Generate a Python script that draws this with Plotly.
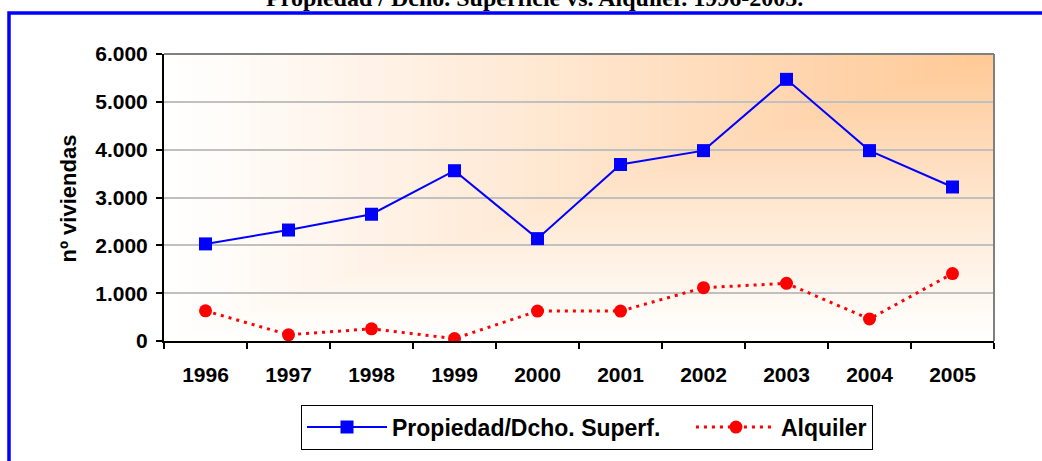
import plotly.graph_objects as go

years = ["1996", "1997", "1998", "1999", "2000", "2001", "2002", "2003", "2004", "2005"]
propiedad = [2030, 2320, 2650, 3560, 2140, 3690, 3980, 5470, 3980, 3220]
alquiler = [630, 130, 255, 50, 625, 625, 1115, 1205, 460, 1410]

title_text = "Propiedad / Dcho. Superficie vs. Alquiler. 1996-2005."
y_title = "nº viviendas"
name1 = "Propiedad/Dcho. Superf."
name2 = "Alquiler"

W, H = 1042, 461
L, R, T, B = 164, 994, 54, 344
pw, ph = R - L, B - T

def px_x(p):
    return (p - L) / pw

def px_y(p):
    return (B - p) / ph

fig = go.Figure()
fig.add_trace(go.Scatter(
    x=years, y=propiedad, name=name1 + "\u00a0" * 4, mode="lines+markers",
    line=dict(color="#0000FF", width=2),
    marker=dict(symbol="square", size=13, color="#0000FF"),
))
fig.add_trace(go.Scatter(
    x=years, y=alquiler, name=name2, mode="lines+markers",
    line=dict(color="#FF0000", width=3, dash="3px,5px"),
    marker=dict(symbol="circle", size=13, color="#FF0000"),
))

shapes = []
# gradient background (white bottom-left -> orange top-right corner)
N = 60
c0 = (255, 255, 255)
c1 = (255, 200, 148)
for k in range(N):
    s = k / N
    t = ((k + 0.5) / N) ** 1.1
    col = "rgb(%d,%d,%d)" % tuple(round(a + (b - a) * t) for a, b in zip(c0, c1))
    shapes.append(dict(type="rect", xref="paper", yref="paper", x0=s, y0=s, x1=1, y1=1,
                       fillcolor=col, line=dict(width=0), layer="below"))
# top/right plot border
shapes.append(dict(type="line", xref="paper", yref="paper", x0=0, y0=1, x1=1, y1=1,
                   line=dict(color="#808080", width=2), layer="above"))
shapes.append(dict(type="line", xref="paper", yref="paper", x0=1, y0=0, x1=1, y1=1,
                   line=dict(color="#808080", width=2), layer="above"))
# blue outer frame
shapes.append(dict(type="rect", xref="paper", yref="paper",
                   x0=px_x(9), y0=px_y(600), x1=px_x(1100), y1=px_y(12.5),
                   line=dict(color="#0000FF", width=3.5), fillcolor="rgba(0,0,0,0)", layer="above"))

SANS = "Liberation Sans, Arial, sans-serif"

fig.update_layout(
    width=W, height=H,
    margin=dict(l=L, r=W - R, t=T, b=H - B, pad=0),
    paper_bgcolor="white", plot_bgcolor="white",
    separators=",.",
    showlegend=True,
    shapes=shapes,
    font=dict(family=SANS, size=21, color="black"),
    legend=dict(
        orientation="h", x=px_x(587), y=px_y(431), xanchor="center", yanchor="middle",
        bordercolor="black", borderwidth=1, bgcolor="white",
        font=dict(family=SANS, size=23, color="black", weight="bold"),
        itemwidth=80,
    ),
    annotations=[
        dict(text="<b>" + title_text + "</b>", xref="paper", yref="paper",
             x=px_x(534), y=px_y(-3), xanchor="center", yanchor="middle", showarrow=False,
             font=dict(family="Liberation Serif, Times New Roman, serif", size=24, color="black")),
        dict(text="<b>" + y_title + "</b>", xref="paper", yref="paper",
             x=px_x(68), y=px_y(200), xanchor="center", yanchor="middle", showarrow=False,
             textangle=-90,
             font=dict(family=SANS, size=22, color="black")),
    ],
)
fig.update_xaxes(
    type="category", range=[-0.5, 9.5],
    showline=True, linecolor="black", linewidth=2,
    ticks="outside", ticklen=6, tickwidth=1.5, tickcolor="black", tickson="boundaries",
    ticklabelstandoff=14,
    showgrid=False, zeroline=False,
    tickfont=dict(family=SANS, size=21, color="black", weight="bold"),
)
fig.update_yaxes(
    range=[0, 6000], dtick=1000, tickformat=",d",
    showline=True, linecolor="black", linewidth=2,
    ticks="outside", ticklen=6, tickwidth=1.5, tickcolor="black",
    ticklabelstandoff=4,
    showgrid=True, gridcolor="#C0C0C0", gridwidth=2, zeroline=False,
    tickfont=dict(family=SANS, size=21, color="black", weight="bold"),
)

fig.write_html("out.html", config={"displayModeBar": False},
               post_script="document.body.style.margin='0';document.body.style.overflow='hidden';")
